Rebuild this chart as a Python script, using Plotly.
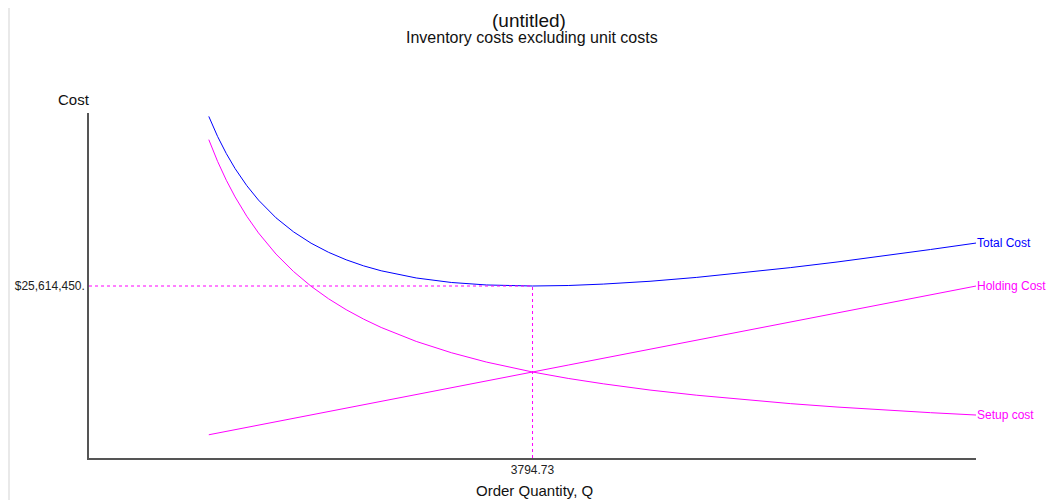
import plotly.graph_objects as go

# ---- data ----
order_qty = [1025, 1100, 1175, 1250, 1350, 1450, 1600, 1750, 1900, 2050, 2200, 2350,
             2500, 2800, 3100, 3400, 3794.73,
             4100, 4400, 4800, 5200, 5600, 6000, 6400, 6800, 7200, 7589]
total_cost = [50.87, 47.89, 45.33, 43.10, 40.56, 38.41, 35.77, 33.68, 31.99, 30.63, 29.52, 28.61,
              27.88, 26.81, 26.14, 25.77, 25.614450,
              25.69, 25.90, 26.32, 26.90, 27.58, 28.35, 29.19, 30.10, 31.05, 32.01]
holding_cost = [3.46, 3.71, 3.97, 4.22, 4.56, 4.89, 5.40, 5.91, 6.41, 6.92, 7.43, 7.93,
                8.44, 9.45, 10.46, 11.48, 12.807225,
                13.84, 14.85, 16.20, 17.55, 18.90, 20.25, 21.60, 22.95, 24.30, 25.61]
setup_cost = [47.41, 44.18, 41.36, 38.88, 36.00, 33.52, 30.37, 27.77, 25.58, 23.71, 22.09, 20.68,
              19.44, 17.36, 15.68, 14.29, 12.807225,
              11.85, 11.05, 10.12, 9.35, 8.68, 8.10, 7.59, 7.15, 6.75, 6.40]
series_names = ["Total Cost", "Holding Cost", "Setup cost"]
eoq_q = 3794.73
eoq_cost = 25614450
x_tick_labels = ["3794.73"]
y_tick_labels = ["$25,614,450."]

M = 1_000_000
total = [v * M for v in total_cost]
holding = [v * M for v in holding_cost]
setup = [v * M for v in setup_cost]

BLUE = "#0000FF"
MAG = "#FF00FF"
FONT = "Arial, Liberation Sans, sans-serif"

# the page body has an 8px margin; work in reference pixels and shift
OFF = 8
W, H = 1054 - OFF, 500 - OFF
L, R, T, B = 89 - OFF, 976 - OFF, 113 - OFF, 458 - OFF  # plot area (figure px)


def px_x(px):  # px in reference coordinates
    return (px - OFF - L) / (R - L)


def px_y(py):
    return (B - (py - OFF)) / (B - T)


fig = go.Figure()
for name, ys, col in [(series_names[0], total, BLUE),
                      (series_names[1], holding, MAG),
                      (series_names[2], setup, MAG)]:
    fig.add_trace(go.Scatter(x=order_qty, y=ys, mode="lines", name=name,
                             line=dict(color=col, width=1), showlegend=False,
                             hoverinfo="skip"))
    fig.add_annotation(x=order_qty[-1], y=ys[-1], text=name, showarrow=False,
                       xanchor="left", yanchor="middle", xshift=-1,
                       font=dict(family=FONT, size=12, color=col))

# EOQ guide lines
fig.add_trace(go.Scatter(x=[0, eoq_q], y=[eoq_cost, eoq_cost], mode="lines",
                         line=dict(color=MAG, width=1, dash="3px,3px"),
                         showlegend=False, hoverinfo="skip"))
fig.add_trace(go.Scatter(x=[eoq_q, eoq_q], y=[0, eoq_cost], mode="lines",
                         line=dict(color=MAG, width=1, dash="3px,3px"),
                         showlegend=False, hoverinfo="skip"))

# background screenshot strip at the left edge
shapes = [dict(type="rect", xref="paper", yref="paper",
               x0=px_x(OFF), x1=px_x(10), y0=px_y(H + OFF), y1=px_y(OFF),
               fillcolor="#e9e9e9", line=dict(width=0), layer="below")]

fig.update_layout(
    width=W, height=H,
    margin=dict(l=L, r=W - R, t=T, b=H - B, pad=0, autoexpand=False),
    paper_bgcolor="white", plot_bgcolor="white",
    shapes=shapes,
    font=dict(family=FONT, size=12, color="#222222"),
    xaxis=dict(range=[0, order_qty[-1]], showgrid=False, zeroline=False,
               showline=True, linecolor="#555555", linewidth=1.5, automargin=False,
               tickvals=[eoq_q], ticktext=x_tick_labels, ticks="",
               tickfont=dict(family=FONT, size=12, color="#222222")),
    yaxis=dict(range=[0, 51.38 * M], showgrid=False, zeroline=False,
               showline=True, linecolor="#555555", linewidth=1.5, automargin=False,
               tickvals=[eoq_cost], ticktext=y_tick_labels, ticks="",
               tickfont=dict(family=FONT, size=12, color="#222222")),
)

fig.add_annotation(xref="paper", yref="paper", x=px_x(529), y=px_y(20),
                   text="(untitled)", showarrow=False, xanchor="center", yanchor="middle",
                   font=dict(family=FONT, size=19, color="#111111"))
fig.add_annotation(xref="paper", yref="paper", x=px_x(532), y=px_y(38),
                   text="Inventory costs excluding unit costs", showarrow=False,
                   xanchor="center", yanchor="middle",
                   font=dict(family=FONT, size=16, color="#111111"))
fig.add_annotation(xref="paper", yref="paper", x=px_x(92), y=px_y(100),
                   text="Cost", showarrow=False, xanchor="right", yanchor="middle",
                   font=dict(family=FONT, size=15, color="#111111"))
fig.add_annotation(xref="paper", yref="paper", x=px_x(534), y=px_y(490),
                   text="Order Quantity, Q", showarrow=False, xanchor="center",
                   yanchor="middle", font=dict(family=FONT, size=15, color="#111111"))

fig.write_html("out.html")
